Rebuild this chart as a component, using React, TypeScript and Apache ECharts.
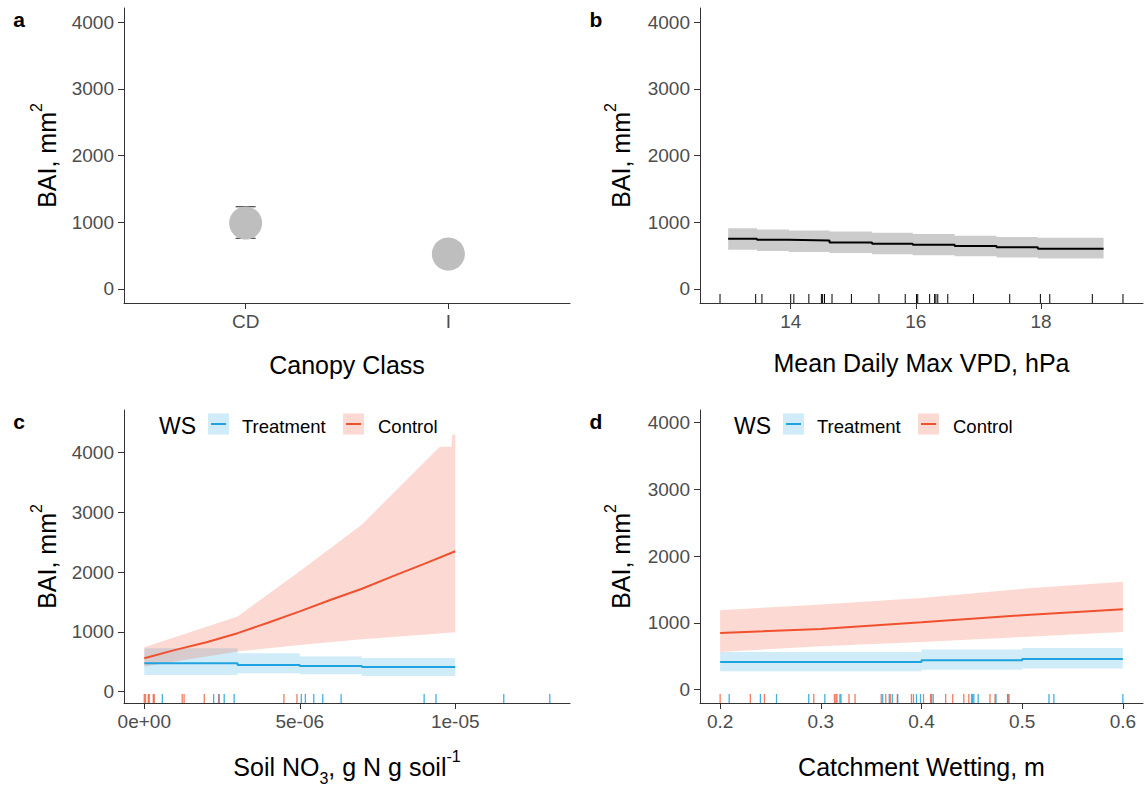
import React, { useEffect, useRef } from 'react';
import * as echarts from 'echarts';

const FONT = '"Liberation Sans", Arial, Helvetica, sans-serif';
const TICK_TEXT = '#4D4D4D';
const AXIS_COLOR = '#333333';
const TITLE_COLOR = '#000000';
const BLUE = '#1FA3E0';
const RED = '#F0502D';
const BLUE_FILL = 'rgba(31,163,224,0.21)';
const RED_FILL = 'rgba(240,80,45,0.21)';
const BLUE_RUG = 'rgba(31,163,224,0.85)';
const RED_RUG = 'rgba(240,80,45,0.75)';
const GREY_FILL = 'rgba(0,0,0,0.2)';
const POINT_GREY = '#BEBEBE';

// ---------- Panel a: Canopy class ----------
const canopyClasses = ['CD', 'I'];
const canopyPositions = [1, 2];
const canopyMean = [988, 524];
const canopyLower = [760, 430];
const canopyUpper = [1232, 620];

// ---------- Panel b: VPD ----------
const vpdX = [13, 13.46, 13.97, 14.62, 15.3, 15.95, 16.62, 17.29, 17.95, 19];
const vpdFit = [752, 738, 728, 698, 678, 663, 644, 624, 604, 604];
const vpdUpper = [911, 891, 876, 861, 842, 822, 797, 780, 767, 767];
const vpdLower = [589, 569, 554, 540, 520, 505, 490, 470, 455, 455];
const vpdRug = [12.87, 13.44, 13.54, 14.0, 14.05, 14.29, 14.49, 14.51, 14.54, 14.66, 14.97, 15.41, 15.83, 16.01, 16.03, 16.22, 16.3, 16.32, 16.35, 16.51, 16.92, 17.5, 17.99, 18.14, 18.82, 19.31];
const vpdTicks = [14, 16, 18];

// ---------- Panel c: Soil NO3 ----------
const no3ControlX = [0, 1e-6, 2e-6, 3e-6, 4e-6, 5e-6, 6e-6, 7e-6, 8e-6, 9e-6, 1e-5];
const no3ControlFit = [560, 699, 828, 979, 1158, 1343, 1538, 1723, 1935, 2140, 2350];
const no3ControlBandX = [0, 3e-6, 5e-6, 7e-6, 9.5e-6, 9.88e-6, 9.9e-6, 1e-5];
const no3ControlUpper = [744, 1259, 2014, 2797, 4100, 4100, 4300, 4310];
const no3ControlLower = [420, 671, 783, 878, 975, 990, 990, 995];
const no3TreatX = [0, 3e-6, 5e-6, 7e-6, 1e-5];
const no3TreatFit = [475, 448, 431, 414, 414];
const no3TreatUpper = [727, 643, 587, 565, 565];
const no3TreatLower = [280, 308, 291, 262, 262];
const no3ControlRug = [0, 0.04e-6, 0.13e-6, 0.16e-6, 0.29e-6, 0.32e-6, 1.22e-6, 1.28e-6, 1.93e-6, 2.39e-6, 4.49e-6, 4.91e-6];
const no3TreatRug = [0.58e-6, 2.23e-6, 2.41e-6, 2.57e-6, 2.89e-6, 5.05e-6, 5.18e-6, 5.45e-6, 5.74e-6, 6.33e-6, 9.0e-6, 9.38e-6, 11.56e-6, 13.04e-6];
const no3Ticks = [0, 5e-6, 1e-5];
const no3TickLabels = ['0e+00', '5e-06', '1e-05'];

// ---------- Panel d: Catchment wetting ----------
const wetX = [0.2, 0.3, 0.4, 0.5, 0.6];
const wetControlFit = [850, 910, 1010, 1115, 1205];
const wetControlUpper = [1190, 1275, 1375, 1510, 1615];
const wetControlLower = [565, 650, 715, 790, 865];
const wetTreatX = [0.2, 0.4, 0.5, 0.6];
const wetTreatFit = [415, 440, 460, 460];
const wetTreatUpper = [565, 600, 625, 625];
const wetTreatLower = [275, 298, 318, 318];
const wetControlRug = [0.2, 0.23, 0.244, 0.293, 0.3135, 0.315, 0.316, 0.328, 0.334, 0.36, 0.3645, 0.369, 0.376, 0.39, 0.392, 0.402, 0.409, 0.41, 0.424, 0.431, 0.442, 0.447, 0.4497, 0.468, 0.473, 0.486, 0.487];
const wetTreatRug = [0.209, 0.24, 0.256, 0.288, 0.304, 0.319, 0.32, 0.3615, 0.368, 0.371, 0.3764, 0.395, 0.399, 0.4116, 0.4507, 0.452, 0.4563, 0.474, 0.4855, 0.5266, 0.5315, 0.6];
const wetTicks = [0.2, 0.3, 0.4, 0.5, 0.6];
const wetTickLabels = ['0.2', '0.3', '0.4', '0.5', '0.6'];

const baiTicks = [0, 1000, 2000, 3000, 4000];

const nearestLabel = (ticks: number[], labels: string[]) => (v: number) => {
  let best = 0;
  for (let i = 1; i < ticks.length; i++) if (Math.abs(ticks[i] - v) < Math.abs(ticks[best] - v)) best = i;
  return labels[best];
};

const nameStyle = {
  fontSize: 25,
  fontFamily: FONT,
  color: TITLE_COLOR,
  lineHeight: 38,
  rich: {
    sup: { fontSize: 16, fontFamily: FONT, color: TITLE_COLOR, lineHeight: 15, verticalAlign: 'top' },
    sub: { fontSize: 16, fontFamily: FONT, color: TITLE_COLOR, lineHeight: 23, verticalAlign: 'bottom' },
  },
};

function xAxis(idx: number, min: number, max: number, ticks: number[], labels: string[], name: string, gap: number) {
  return {
    type: 'value', gridIndex: idx, min, max, name, nameLocation: 'middle', nameGap: gap,
    nameMoveOverlap: false,
    nameTextStyle: nameStyle,
    axisLine: { show: true, onZero: false, lineStyle: { color: AXIS_COLOR, width: 1 } },
    axisTick: { show: true, length: 6, customValues: ticks, lineStyle: { color: AXIS_COLOR, width: 1 } },
    axisLabel: { show: true, customValues: ticks, formatter: nearestLabel(ticks, labels), color: TICK_TEXT, fontSize: 19, fontFamily: FONT, margin: 9 },
    splitLine: { show: false },
  };
}

function yAxis(idx: number, min: number, max: number, gap: number) {
  return {
    type: 'value', gridIndex: idx, min, max, name: 'BAI, mm{sup|2}', nameLocation: 'middle', nameGap: gap,
    nameRotate: 90, nameMoveOverlap: false,
    nameTextStyle: nameStyle,
    axisLine: { show: true, onZero: false, lineStyle: { color: AXIS_COLOR, width: 1 } },
    axisTick: { show: true, length: 6, customValues: baiTicks, lineStyle: { color: AXIS_COLOR, width: 1 } },
    axisLabel: { show: true, customValues: baiTicks, formatter: (v: number) => String(Math.round(v)), color: TICK_TEXT, fontSize: 19, fontFamily: FONT, margin: 10 },
    splitLine: { show: false },
  };
}

function band(idx: number, xs: number[], lo: number[], hi: number[], fill: string, step: boolean) {
  return {
    type: 'custom', xAxisIndex: idx, yAxisIndex: idx, z: 1, silent: true,
    data: [[xs[0], lo[0]]],
    encode: { x: 0, y: 1 },
    renderItem: (_params: any, api: any) => {
      const up: number[][] = [];
      const dn: number[][] = [];
      for (let i = 0; i < xs.length; i++) {
        if (step && i > 0) {
          up.push(api.coord([xs[i], hi[i - 1]]));
          dn.push(api.coord([xs[i], lo[i - 1]]));
        }
        up.push(api.coord([xs[i], hi[i]]));
        dn.push(api.coord([xs[i], lo[i]]));
      }
      return { type: 'polygon', shape: { points: up.concat(dn.reverse()) }, style: { fill } };
    },
  };
}

function line(idx: number, xs: number[], ys: number[], color: string, step: boolean, width = 2) {
  return {
    type: 'line', xAxisIndex: idx, yAxisIndex: idx, z: 3, silent: true,
    data: xs.map((x, i) => [x, ys[i]]),
    symbol: 'none', showSymbol: false, step: step ? 'end' : false,
    lineStyle: { color, width }, itemStyle: { color },
  };
}

function rug(idx: number, values: number[], color: string, width = 1.3) {
  return {
    type: 'custom', xAxisIndex: idx, yAxisIndex: idx, z: 2, silent: true,
    data: values.map((v) => [v, 0]),
    encode: { x: 0, y: 1 },
    renderItem: (params: any, api: any) => {
      const cs = params.coordSys;
      const p = api.coord([api.value(0), 0]);
      const yb = cs.y + cs.height;
      return { type: 'line', shape: { x1: p[0], y1: yb - 9, x2: p[0], y2: yb }, style: { stroke: color, lineWidth: width } };
    },
  };
}

function legendGraphics(dx: number) {
  const txt = (x: number, text: string, size: number) => ({
    type: 'text', x: x + dx, y: 426,
    style: { text, fontSize: size, fontFamily: FONT, fill: '#000', verticalAlign: 'middle', textVerticalAlign: 'middle' },
  });
  return [
    txt(159, 'WS', 23),
    { type: 'rect', shape: { x: 208 + dx, y: 413.5, width: 21, height: 21 }, style: { fill: BLUE_FILL } },
    { type: 'line', shape: { x1: 211 + dx, y1: 424, x2: 226 + dx, y2: 424 }, style: { stroke: BLUE, lineWidth: 2 } },
    txt(242, 'Treatment', 18.5),
    { type: 'rect', shape: { x: 343 + dx, y: 413.5, width: 21, height: 21 }, style: { fill: RED_FILL } },
    { type: 'line', shape: { x1: 346 + dx, y1: 424, x2: 361 + dx, y2: 424 }, style: { stroke: RED, lineWidth: 2 } },
    txt(378, 'Control', 18.5),
  ];
}

function panelLetter(x: number, y: number, text: string) {
  return {
    type: 'text', x, y,
    style: { text, fontSize: 21, fontWeight: 'bold', fontFamily: FONT, fill: '#000', align: 'center', textAlign: 'center', verticalAlign: 'middle', textVerticalAlign: 'middle' },
  };
}

export default function App() {
  const ref = useRef<HTMLDivElement>(null);
  useEffect(() => {
    if (!ref.current) return;
    const chart = echarts.init(ref.current, undefined, { renderer: 'svg' });
    const option: any = {
      animation: false,
      backgroundColor: '#ffffff',
      textStyle: { fontFamily: FONT },
      grid: [
        { left: 124, top: 8, width: 446, height: 295, outerBoundsMode: 'none', containLabel: false },
        { left: 700, top: 8, width: 443, height: 295, outerBoundsMode: 'none', containLabel: false },
        { left: 124, top: 410, width: 446, height: 293, outerBoundsMode: 'none', containLabel: false },
        { left: 700, top: 410, width: 443, height: 293, outerBoundsMode: 'none', containLabel: false },
      ],
      xAxis: [
        xAxis(0, 0.4, 2.6, canopyPositions, canopyClasses, 'Canopy Class', 43),
        xAxis(1, 12.55, 19.63, vpdTicks, vpdTicks.map(String), 'Mean Daily Max VPD, hPa', 41),
        xAxis(2, -0.652e-6, 13.69e-6, no3Ticks, no3TickLabels, 'Soil NO{sub|3}, g N g soil{sup|-1}', 45),
        xAxis(3, 0.18, 0.62, wetTicks, wetTickLabels, 'Catchment Wetting, m', 45),
      ],
      yAxis: [
        yAxis(0, -210, 4210, 58),
        yAxis(1, -210, 4210, 60),
        yAxis(2, -190, 4715, 58),
        yAxis(3, -200, 4190, 60),
      ],
      series: [
        // panel a
        {
          type: 'custom', xAxisIndex: 0, yAxisIndex: 0, z: 2, silent: true,
          data: canopyPositions.map((x, i) => [x, canopyLower[i], canopyUpper[i]]),
          encode: { x: 0, y: [1, 2] },
          renderItem: (_p: any, api: any) => {
            const x = api.value(0);
            const lo = api.coord([x, api.value(1)]);
            const hi = api.coord([x, api.value(2)]);
            const st = { stroke: '#222', lineWidth: 1 };
            return {
              type: 'group',
              children: [
                { type: 'line', shape: { x1: lo[0], y1: lo[1], x2: hi[0], y2: hi[1] }, style: st },
                { type: 'line', shape: { x1: lo[0] - 10, y1: lo[1], x2: lo[0] + 10, y2: lo[1] }, style: st },
                { type: 'line', shape: { x1: hi[0] - 10, y1: hi[1], x2: hi[0] + 10, y2: hi[1] }, style: st },
              ],
            };
          },
        },
        {
          type: 'scatter', xAxisIndex: 0, yAxisIndex: 0, z: 5, silent: true,
          data: canopyPositions.map((x, i) => [x, canopyMean[i]]),
          symbol: 'circle', symbolSize: 33, itemStyle: { color: POINT_GREY, opacity: 1 },
        },
        // panel b
        band(1, vpdX, vpdLower, vpdUpper, GREY_FILL, true),
        line(1, vpdX, vpdFit, '#000000', true, 2),
        rug(1, vpdRug, '#000000', 1),
        // panel c
        band(2, no3TreatX, no3TreatLower, no3TreatUpper, BLUE_FILL, true),
        band(2, no3ControlBandX, no3ControlLower, no3ControlUpper, RED_FILL, false),
        line(2, no3TreatX, no3TreatFit, BLUE, true),
        line(2, no3ControlX, no3ControlFit, RED, false),
        rug(2, no3ControlRug, RED_RUG),
        rug(2, no3TreatRug, BLUE_RUG),
        // panel d
        band(3, wetTreatX, wetTreatLower, wetTreatUpper, BLUE_FILL, true),
        band(3, wetX, wetControlLower, wetControlUpper, RED_FILL, false),
        line(3, wetTreatX, wetTreatFit, BLUE, true),
        line(3, wetX, wetControlFit, RED, false),
        rug(3, wetControlRug, RED_RUG),
        rug(3, wetTreatRug, BLUE_RUG),
      ],
      graphic: [
        panelLetter(19, 19, 'a'),
        panelLetter(596, 19, 'b'),
        panelLetter(19, 421, 'c'),
        panelLetter(596, 421, 'd'),
        ...legendGraphics(0),
        ...legendGraphics(575),
      ],
    };
    chart.setOption(option);
    return () => chart.dispose();
  }, []);
  return <div ref={ref} style={{ position: 'absolute', left: 0, top: 0, width: 1144, height: 787, background: '#fff' }} />;
}
